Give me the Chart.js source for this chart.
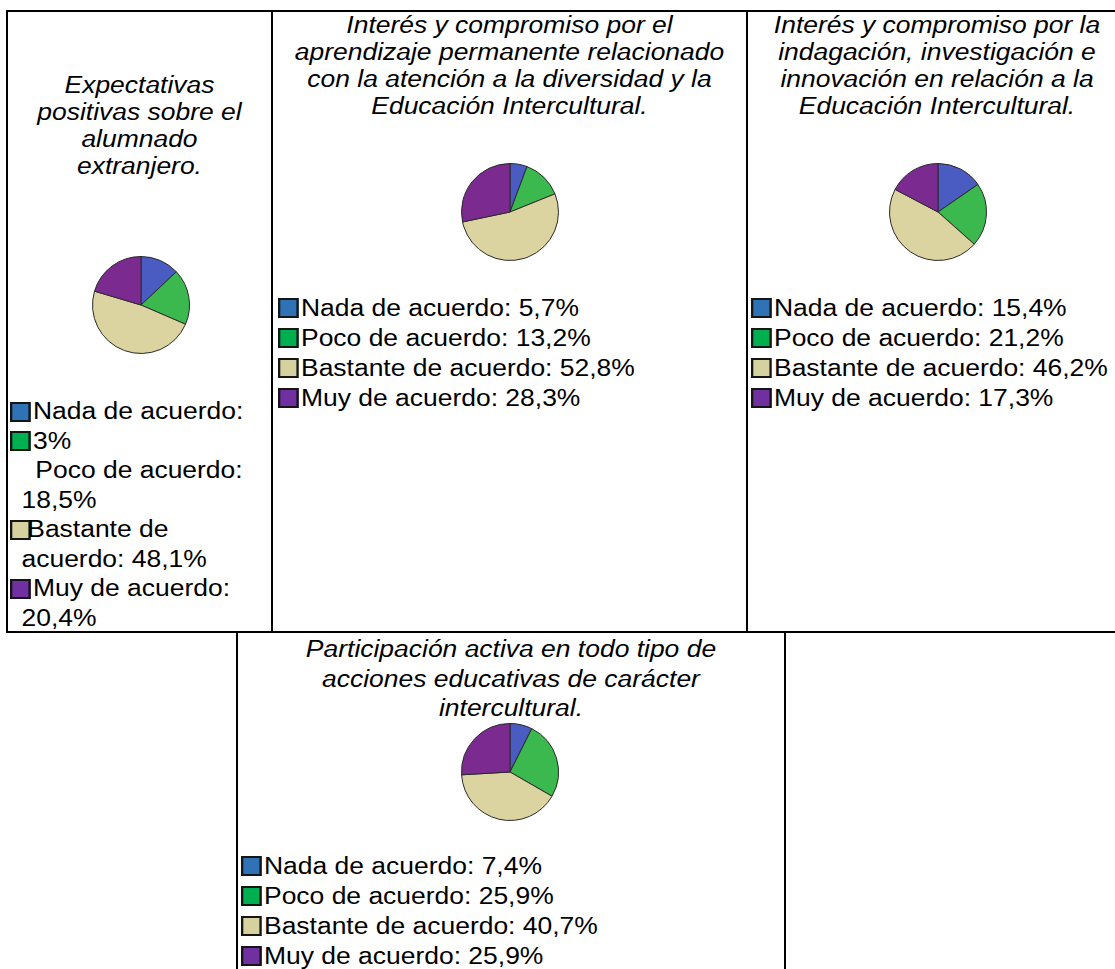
<!DOCTYPE html>
<html>
<head>
<meta charset="utf-8">
<script src="https://cdn.jsdelivr.net/npm/chart.js@4.4.0/dist/chart.umd.min.js"></script>
<style>
  html, body { margin: 0; padding: 0; background: #fff; }
  body { width: 1115px; height: 969px; position: relative; overflow: hidden;
         font-family: "Liberation Sans", Arial, sans-serif; color: #000; }
  .rule { position: absolute; background: #000; }
  .title { position: absolute; font-style: italic; font-size: 23px; line-height: 27px;
           text-align: center; white-space: pre; transform: scaleX(1.15); }
  .legend { position: absolute; font-size: 23px; line-height: 30px; white-space: pre;
            transform: scaleX(1.15); transform-origin: 0 0; }
  .item { position: relative; height: 30px; }
  .box { position: absolute; left: 0; top: 5px; width: 14px; height: 16px; border: 2px solid #151515; }
  #l1 .item { height: 29.5px; line-height: 29.5px; }
  #l1 .box { top: 4.75px; }
  .pie { position: absolute; width: 98px; height: 98px; }
</style>
</head>
<body>

<!-- table rules -->
<div class="rule" style="left:6px;top:10px;width:1109px;height:2px"></div>
<div class="rule" style="left:6px;top:10px;width:2px;height:623px"></div>
<div class="rule" style="left:271px;top:10px;width:2px;height:623px"></div>
<div class="rule" style="left:746px;top:10px;width:2px;height:623px"></div>
<div class="rule" style="left:6px;top:631px;width:1109px;height:2px"></div>
<div class="rule" style="left:236px;top:631px;width:2px;height:338px"></div>
<div class="rule" style="left:784px;top:631px;width:2px;height:338px"></div>

<div id="t1" class="title" style="left:8px;top:72px;width:263px"></div>
<div id="t2" class="title" style="left:273px;top:12px;width:473px"></div>
<div id="t3" class="title" style="left:748px;top:12px;width:378px"></div>
<div id="t4" class="title" style="left:238px;top:635px;width:546px;line-height:29.5px"></div>

<canvas id="c1" class="pie" width="98" height="98" style="left:92px;top:256px"></canvas>
<canvas id="c2" class="pie" width="98" height="98" style="left:461px;top:163px"></canvas>
<canvas id="c3" class="pie" width="98" height="98" style="left:889px;top:163px"></canvas>
<canvas id="c4" class="pie" width="98" height="98" style="left:461px;top:723px"></canvas>

<div id="l1" class="legend" style="left:10px;top:397px"></div>
<div id="l2" class="legend" style="left:278px;top:293px"></div>
<div id="l3" class="legend" style="left:751px;top:293px"></div>
<div id="l4" class="legend" style="left:241px;top:851px"></div>

<script>
const categories = ['Nada de acuerdo', 'Poco de acuerdo', 'Bastante de acuerdo', 'Muy de acuerdo'];

const expectativas = [13, 18.5, 48.1, 20.4];
const aprendizaje = [5.7, 13.2, 52.8, 28.3];
const indagacion = [15.4, 21.2, 46.2, 17.3];
const participacion = [7.4, 25.9, 40.7, 25.9];

const titles = [
  'Expectativas\npositivas sobre el\nalumnado\nextranjero.',
  'Interés y compromiso por el\naprendizaje permanente relacionado\ncon la atención a la diversidad y la\nEducación Intercultural.',
  'Interés y compromiso por la\nindagación, investigación e\ninnovación en relación a la\nEducación Intercultural.',
  'Participación activa en todo tipo de\nacciones educativas de carácter\nintercultural.'
];

// the first legend is broken over several lines in the original
const expectativasLegend = ['Nada de acuerdo:', '3%', 'Poco de acuerdo:', '18,5%',
                            'Bastante de', 'acuerdo: 48,1%', 'Muy de acuerdo:', '20,4%'];

const sliceColors = ['#4a5cc2', '#3cb94e', '#dbd4a0', '#7b2b8f'];
const legendColors = ['#2f72b6', '#00b050', '#d6d2a0', '#7030a0'];

function fmt(v) {
  return String(v).replace('.', ',');
}

function drawPie(id, values) {
  new Chart(document.getElementById(id), {
    type: 'pie',
    data: {
      labels: categories,
      datasets: [{
        data: values,
        backgroundColor: sliceColors,
        borderColor: '#2a2a2a',
        borderWidth: 1
      }]
    },
    options: {
      responsive: false,
      animation: false,
      layout: { padding: 0 },
      plugins: { legend: { display: false }, tooltip: { enabled: false } }
    }
  });
}

function legendLine(text, color, indent) {
  const item = document.createElement('div');
  item.className = 'item';
  if (color) {
    const box = document.createElement('span');
    box.className = 'box';
    box.style.background = color;
    item.appendChild(box);
  }
  const label = document.createElement('span');
  label.textContent = text;
  label.style.position = 'absolute';
  label.style.left = indent + 'px';
  item.appendChild(label);
  return item;
}

function drawLegend(id, values) {
  const el = document.getElementById(id);
  categories.forEach((c, i) => {
    el.appendChild(legendLine(c + ': ' + fmt(values[i]) + '%', legendColors[i], 20));
  });
}

['t1', 't2', 't3', 't4'].forEach((id, i) => {
  document.getElementById(id).textContent = titles[i];
});

drawPie('c1', expectativas);
drawPie('c2', aprendizaje);
drawPie('c3', indagacion);
drawPie('c4', participacion);

// legend of the first cell, laid out as in the source document
const l1 = document.getElementById('l1');
const l1Boxes = [0, 1, null, null, 2, null, 3, null];
const l1Indent = [20, 20, 22, 10, 15, 10, 20, 10];
expectativasLegend.forEach((t, i) => {
  const b = l1Boxes[i];
  l1.appendChild(legendLine(t, b === null ? null : legendColors[b], l1Indent[i]));
});

drawLegend('l2', aprendizaje);
drawLegend('l3', indagacion);
drawLegend('l4', participacion);
</script>
</body>
</html>
